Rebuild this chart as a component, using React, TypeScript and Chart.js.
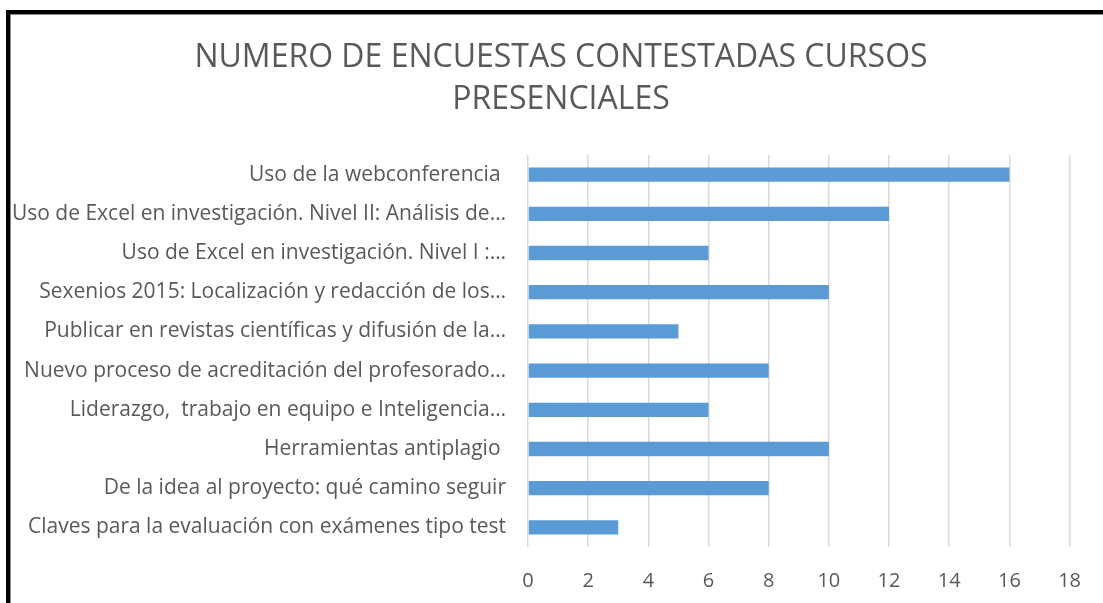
import React, { useEffect, useRef } from "react";
import { Chart, registerables } from "chart.js";

Chart.register(...registerables);

const categories: string[] = [
  "Uso de la webconferencia ",
  "Uso de Excel en investigación. Nivel II: Análisis de…",
  "Uso de Excel en investigación. Nivel I :…",
  "Sexenios 2015: Localización y redacción de los…",
  "Publicar en revistas científicas y difusión de la…",
  "Nuevo proceso de acreditación del profesorado…",
  "Liderazgo,  trabajo en equipo e Inteligencia…",
  "Herramientas antiplagio ",
  "De la idea al proyecto: qué camino seguir",
  "Claves para la evaluación con exámenes tipo test",
];

const encuestas: number[] = [16, 12, 6, 10, 5, 8, 6, 10, 8, 3];

const titleLines: string[] = ["NUMERO DE ENCUESTAS CONTESTADAS CURSOS", "PRESENCIALES"];

const FONT = "'Open Sans', 'DejaVu Sans', sans-serif";
const GRAY = "#595959";
const TITLE_SIZE = 32;
const TITLE_LH = 42;

const titleDrawer = {
  id: "titleDrawer",
  afterDraw(chart: any) {
    const ctx = chart.ctx;
    ctx.save();
    ctx.fillStyle = GRAY;
    ctx.font = `normal ${TITLE_SIZE}px ${FONT}`;
    ctx.textAlign = "center";
    ctx.textBaseline = "middle";
    titleLines.forEach((line, i) => {
      ctx.fillText(line, 561, 58 + i * TITLE_LH);
    });
    ctx.restore();
  },
};

export default function App() {
  const ref = useRef<HTMLCanvasElement | null>(null);

  useEffect(() => {
    if (!ref.current) return;
    const chart = new Chart(ref.current, {
      type: "bar",
      data: {
        labels: categories,
        datasets: [
          {
            label: "Encuestas",
            data: encuestas,
            backgroundColor: "#5B9BD5",
            borderWidth: 0,
            barPercentage: 0.7,
            categoryPercentage: 0.52,
          },
        ],
      },
      plugins: [titleDrawer],
      options: {
        indexAxis: "y",
        animation: false,
        responsive: false,
        maintainAspectRatio: false,
        layout: { padding: { left: 0, right: 28, top: 155, bottom: 0 } },
        plugins: {
          legend: { display: false },
          tooltip: { enabled: false },
          title: { display: false },
        },
        scales: {
          x: {
            min: 0,
            max: 18,
            ticks: {
              stepSize: 2,
              color: GRAY,
              padding: 22,
              font: { family: FONT, size: 20 },
            },
            grid: { color: "#d9d9d9", lineWidth: 1.5, drawTicks: false },
            border: { display: false },
            afterFit: (scale: any) => {
              scale.height = 56;
            },
          },
          y: {
            ticks: {
              color: GRAY,
              padding: 22,
              font: { family: FONT, size: 21 },
              autoSkip: false,
            },
            grid: { display: false, drawTicks: false },
            border: { display: false },
            afterFit: (scale: any) => {
              scale.width = 528;
            },
          },
        },
      },
    });
    return () => chart.destroy();
  }, []);

  return (
    <div
      style={{
        position: "fixed",
        left: 0,
        top: 0,
        width: 1103,
        height: 603,
        overflow: "hidden",
        background: "#fff",
      }}
    >
      <div
        style={{
          position: "absolute",
          left: 6,
          top: 10,
          width: 1300,
          height: 800,
          border: "4px solid #000",
          boxShadow: "inset 1px 1px 0 #888",
        }}
      />
      <canvas
        ref={ref}
        width={1103}
        height={603}
        style={{ position: "absolute", left: 0, top: 0, width: 1103, height: 603 }}
      />
    </div>
  );
}
